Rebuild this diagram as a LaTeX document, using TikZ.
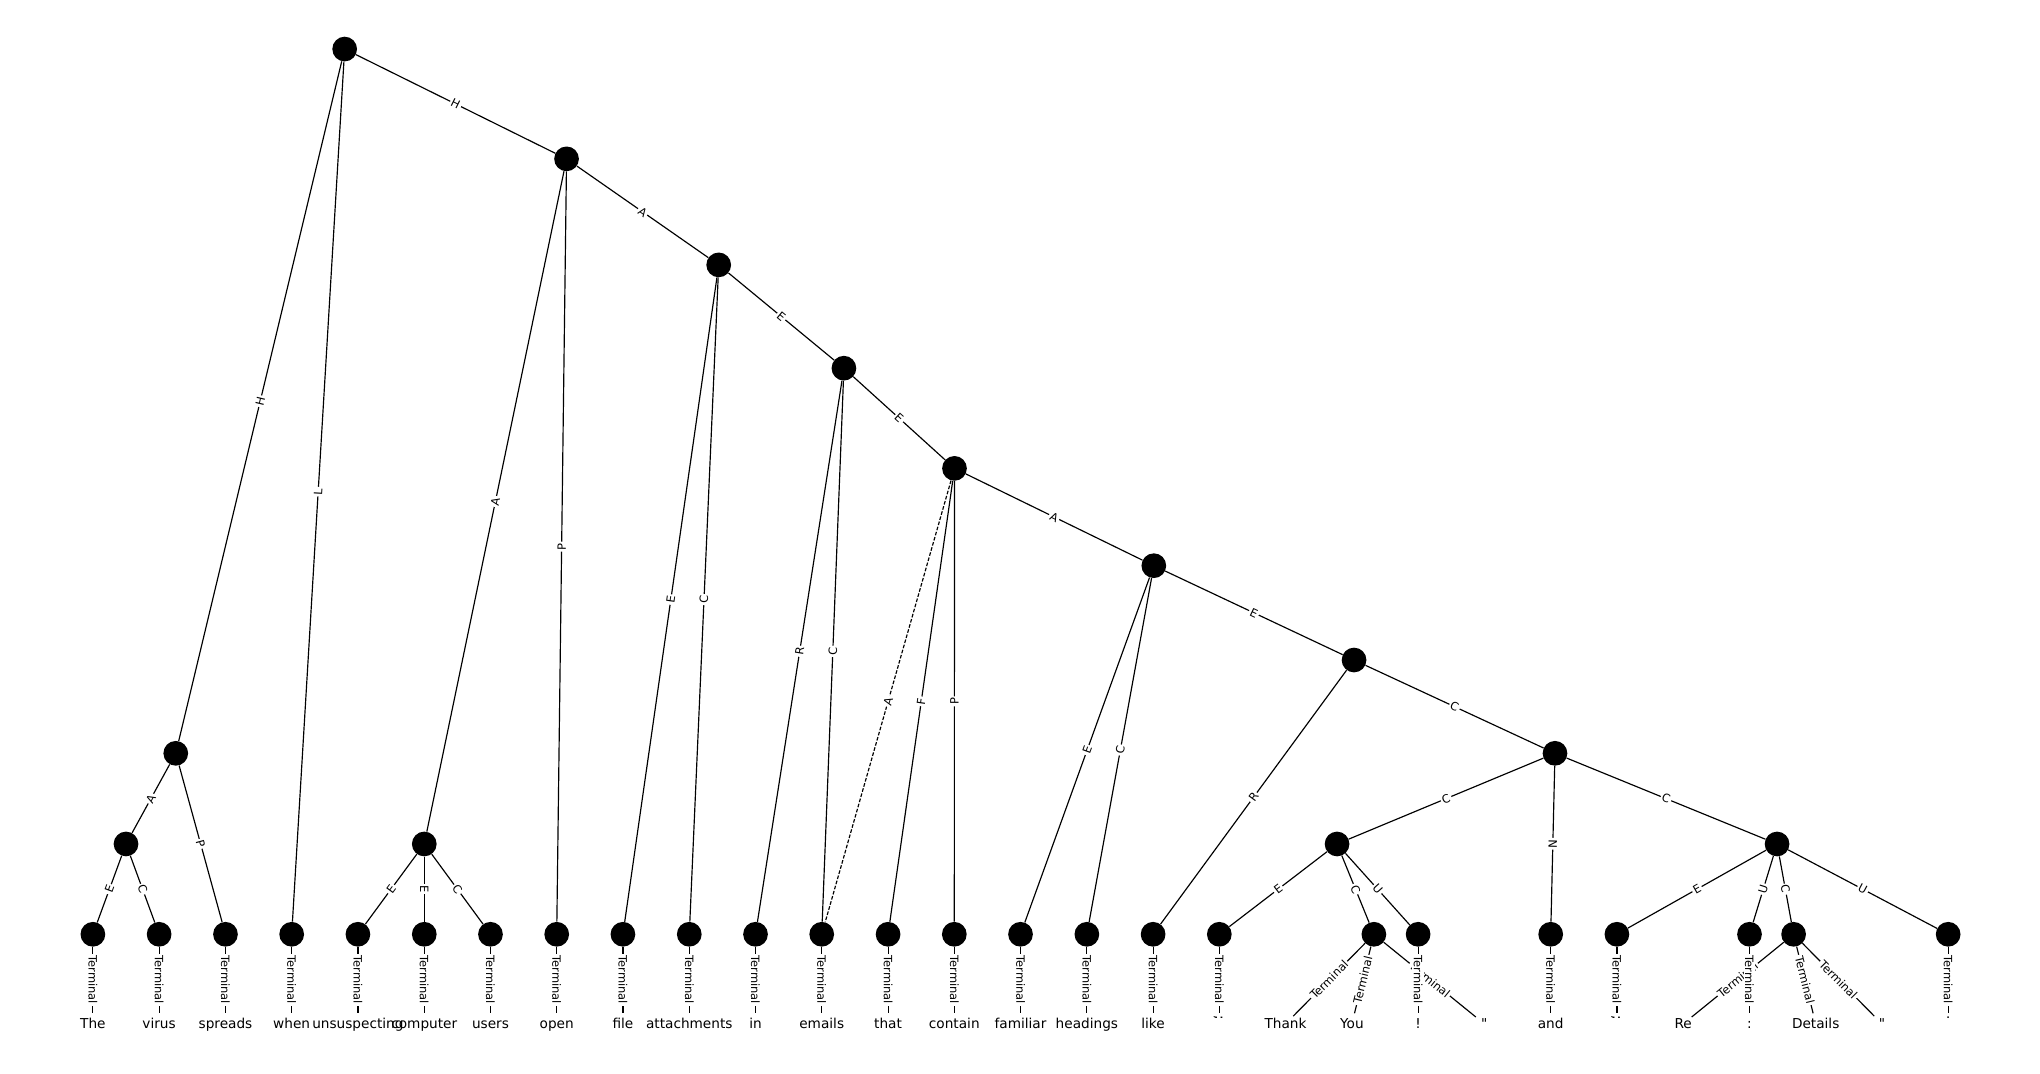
\documentclass[tikz,border=0pt]{standalone}
\usepackage{fontspec}
\setmainfont{DejaVu Sans}
\newfontfamily\qfont{DejaVu Sans}
\tikzset{
  inode/.style={circle, fill=black, minimum size=19pt, inner sep=0pt},
  wnode/.style={circle, minimum size=16.4pt, inner sep=0pt},
  wtxt/.style={font=\fontsize{10.5}{12}\selectfont, inner sep=0pt, text height=7.7pt, text depth=0pt},
  ptxt/.style={font=\fontsize{10.5}{12}\selectfont, inner sep=0pt, rotate=-90},
  edge/.style={line width=0.9pt, draw=black},
  elab/.style={midway, sloped, fill=white, inner sep=1.2pt, font=\fontsize{8.8}{10}\selectfont},
  vlab/.style={midway, rotate=-90, fill=white, inner sep=1.2pt, font=\fontsize{8.8}{10}\selectfont},
  dashedge/.style={line width=0.9pt, draw=black, dash pattern=on 2.8pt off 1.3pt},
}
\begin{document}
\begin{tikzpicture}[x=1pt,y=-1pt]
\useasboundingbox (0,0) rectangle (1568,825.5);
% internal nodes
\node[inode] (R)  at (264.92,37.7) {};
\node[inode] (N1) at (435.47,122.1) {};
\node[inode] (N2) at (552.42,203.6) {};
\node[inode] (N3) at (648.65,283.0) {};
\node[inode] (N4) at (733.64,360.0) {};
\node[inode] (N5) at (886.85,434.8) {};
\node[inode] (N6) at (1040.75,507.3) {};
\node[inode] (N7) at (1195.2,579.0) {};
\node[inode] (L1) at (135.1,579.0) {};
\node[inode] (L2) at (96.85,648.7) {};
\node[inode] (M1) at (326.1,648.7) {};
\node[inode] (Q1) at (1027.7,648.7) {};
\node[inode] (Q2) at (1365.9,648.7) {};
% leaf nodes
\node[inode] (t0)  at (71.4,718.1) {};
\node[inode] (t1)  at (122.3,718.1) {};
\node[inode] (t2)  at (173.3,718.1) {};
\node[inode] (t3)  at (224.2,718.1) {};
\node[inode] (t4)  at (275.1,718.1) {};
\node[inode] (t5)  at (326.1,718.1) {};
\node[inode] (t6)  at (377.0,718.1) {};
\node[inode] (t7)  at (427.9,718.1) {};
\node[inode] (t8)  at (478.8,718.1) {};
\node[inode] (t9)  at (529.8,718.1) {};
\node[inode] (t10) at (580.7,718.1) {};
\node[inode] (t11) at (631.6,718.1) {};
\node[inode] (t12) at (682.6,718.1) {};
\node[inode] (t13) at (733.5,718.1) {};
\node[inode] (t14) at (784.4,718.1) {};
\node[inode] (t15) at (835.4,718.1) {};
\node[inode] (t16) at (886.3,718.1) {};
\node[inode] (t17) at (937.2,718.1) {};
\node[inode] (tTY) at (1056.0,718.1) {};
\node[inode] (t20) at (1090.0,718.1) {};
\node[inode] (t22) at (1191.9,718.1) {};
\node[inode] (t23) at (1242.8,718.1) {};
\node[inode] (t25) at (1344.7,718.1) {};
\node[inode] (tRD) at (1378.6,718.1) {};
\node[inode] (t28) at (1497.4,718.1) {};
% word nodes
\node[wnode, label={[wtxt]center:The}]          (w0)  at (71.4,787) {};
\node[wnode, label={[wtxt]center:virus}]        (w1)  at (122.3,787) {};
\node[wnode, label={[wtxt]center:spreads}]      (w2)  at (173.3,787) {};
\node[wnode, label={[wtxt]center:when}]         (w3)  at (224.2,787) {};
\node[wnode, label={[wtxt]center:unsuspecting}] (w4)  at (275.1,787) {};
\node[wnode, label={[wtxt]center:computer}]     (w5)  at (326.1,787) {};
\node[wnode, label={[wtxt]center:users}]        (w6)  at (377.0,787) {};
\node[wnode, label={[wtxt]center:open}]         (w7)  at (427.9,787) {};
\node[wnode, label={[wtxt]center:file}]         (w8)  at (478.8,787) {};
\node[wnode, label={[wtxt]center:attachments}]  (w9)  at (529.8,787) {};
\node[wnode, label={[wtxt]center:in}]           (w10) at (580.7,787) {};
\node[wnode, label={[wtxt]center:emails}]       (w11) at (631.6,787) {};
\node[wnode, label={[wtxt]center:that}]         (w12) at (682.6,787) {};
\node[wnode, label={[wtxt]center:contain}]      (w13) at (733.5,787) {};
\node[wnode, label={[wtxt]center:familiar}]     (w14) at (784.4,787) {};
\node[wnode, label={[wtxt]center:headings}]     (w15) at (835.4,787) {};
\node[wnode, label={[wtxt]center:like}]         (w16) at (886.3,787) {};
\node[wnode]                                    (w17) at (937.2,787) {};
\node[wnode, label={[wtxt]center:Thank}]        (w18) at (988.1,787) {};
\node[wnode, label={[wtxt]center:You}]          (w19) at (1039.1,787) {};
\node[wnode, label={[wtxt]center:!}]            (w20) at (1090.0,787) {};
\node[wnode, label={[wtxt]center:{\qfont"}}]    (w21) at (1140.9,787) {};
\node[wnode, label={[wtxt]center:and}]          (w22) at (1191.9,787) {};
\node[wnode]                                    (w23) at (1242.8,787) {};
\node[wnode, label={[wtxt]center:Re}]           (w24) at (1293.7,787) {};
\node[wnode, label={[wtxt]center:{:}}]          (w25) at (1344.7,787) {};
\node[wnode, label={[wtxt]center:Details}]      (w26) at (1395.6,787) {};
\node[wnode, label={[wtxt]center:{\qfont"}}]    (w27) at (1446.5,787) {};
\node[wnode]                                    (w28) at (1497.4,787) {};
\node[ptxt] (w17t) at ([xshift=-1pt,yshift=5pt]w17.center) {;};
\node[ptxt] (w23t) at ([xshift=-1pt,yshift=5pt]w23.center) {;};
\node[ptxt] (w28t) at ([yshift=4.5pt]w28.center) {.};
% internal edges
\draw[edge] (R) -- node[elab]{H} (N1);
\draw[edge] (R) -- node[elab]{H} (L1);
\draw[edge] (R) -- node[elab]{L} (t3);
\draw[edge] (N1) -- node[elab]{A} (N2);
\draw[edge] (N1) -- node[elab]{A} (M1);
\draw[edge] (N1) -- node[elab]{P} (t7);
\draw[edge] (N2) -- node[elab]{E} (N3);
\draw[edge] (N2) -- node[elab]{E} (t8);
\draw[edge] (N2) -- node[elab]{C} (t9);
\draw[edge] (N3) -- node[elab]{E} (N4);
\draw[edge] (N3) -- node[elab]{R} (t10);
\draw[edge] (N3) -- node[elab]{C} (t11);
\draw[edge] (N4) -- node[elab]{A} (N5);
\draw[dashedge] (N4) -- node[elab]{A} (t11);
\draw[edge] (N4) -- node[elab]{F} (t12);
\draw[edge] (N4) -- node[elab]{P} (t13);
\draw[edge] (N5) -- node[elab]{E} (N6);
\draw[edge] (N5) -- node[elab]{E} (t14);
\draw[edge] (N5) -- node[elab]{C} (t15);
\draw[edge] (N6) -- node[elab]{C} (N7);
\draw[edge] (N6) -- node[elab]{R} (t16);
\draw[edge] (N7) -- node[elab]{C} (Q1);
\draw[edge] (N7) -- node[elab]{N} (t22);
\draw[edge] (N7) -- node[elab]{C} (Q2);
\draw[edge] (L1) -- node[elab]{A} (L2);
\draw[edge] (L1) -- node[elab]{P} (t2);
\draw[edge] (L2) -- node[elab]{E} (t0);
\draw[edge] (L2) -- node[elab]{C} (t1);
\draw[edge] (M1) -- node[elab]{E} (t4);
\draw[edge] (M1) -- node[elab]{E} (t5);
\draw[edge] (M1) -- node[elab]{C} (t6);
\draw[edge] (Q1) -- node[elab]{E} (t17);
\draw[edge] (Q1) -- node[elab]{C} (tTY);
\draw[edge] (Q1) -- node[elab]{U} (t20);
\draw[edge] (Q2) -- node[elab]{E} (t23);
\draw[edge] (Q2) -- node[elab]{U} (t25);
\draw[edge] (Q2) -- node[elab]{C} (tRD);
\draw[edge] (Q2) -- node[elab]{U} (t28);
% terminal edges (slanted first)
\draw[edge] (tTY) -- node[elab]{Terminal} (w18);
\draw[edge] (tTY) -- node[elab]{Terminal} (w19);
\draw[edge] (tTY) -- node[elab]{Terminal} (w21);
\draw[edge] (tRD) -- node[elab]{Terminal} (w24);
\draw[edge] (tRD) -- node[elab]{Terminal} (w26);
\draw[edge] (tRD) -- node[elab]{Terminal} (w27);
% vertical terminal edges
\draw[edge] (t0)  -- node[vlab]{Terminal} (w0);
\draw[edge] (t1)  -- node[vlab]{Terminal} (w1);
\draw[edge] (t2)  -- node[vlab]{Terminal} (w2);
\draw[edge] (t3)  -- node[vlab]{Terminal} (w3);
\draw[edge] (t4)  -- node[vlab]{Terminal} (w4);
\draw[edge] (t5)  -- node[vlab]{Terminal} (w5);
\draw[edge] (t6)  -- node[vlab]{Terminal} (w6);
\draw[edge] (t7)  -- node[vlab]{Terminal} (w7);
\draw[edge] (t8)  -- node[vlab]{Terminal} (w8);
\draw[edge] (t9)  -- node[vlab]{Terminal} (w9);
\draw[edge] (t10) -- node[vlab]{Terminal} (w10);
\draw[edge] (t11) -- node[vlab]{Terminal} (w11);
\draw[edge] (t12) -- node[vlab]{Terminal} (w12);
\draw[edge] (t13) -- node[vlab]{Terminal} (w13);
\draw[edge] (t14) -- node[vlab]{Terminal} (w14);
\draw[edge] (t15) -- node[vlab]{Terminal} (w15);
\draw[edge] (t16) -- node[vlab]{Terminal} (w16);
\draw[edge] (t17) -- node[vlab]{Terminal} (w17);
\draw[edge] (t20) -- node[vlab]{Terminal} (w20);
\draw[edge] (t22) -- node[vlab]{Terminal} (w22);
\draw[edge] (t23) -- node[vlab]{Terminal} (w23);
\draw[edge] (t25) -- node[vlab]{Terminal} (w25);
\draw[edge] (t28) -- node[vlab]{Terminal} (w28);
\end{tikzpicture}
\end{document}
